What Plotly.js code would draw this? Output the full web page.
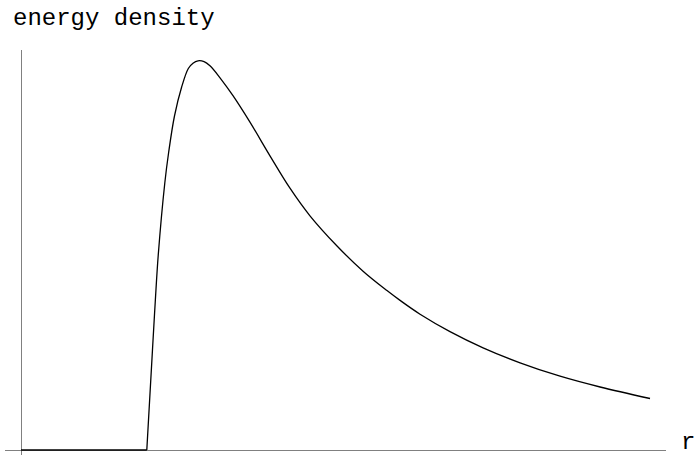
<!DOCTYPE html>
<html>
<head>
<meta charset="utf-8">
<script src="https://cdn.plot.ly/plotly-3.0.1.min.js"></script>
<style>html,body{margin:0;padding:0;background:#fff;}#chart{width:697px;height:456px;}</style>
</head>
<body>
<div id="chart"></div>
<script>
// inside region (flat at zero)
const rInner = [0, 1.0];
const eInner = [0, 0];
// outside region
const rOuter = [1.0, 1.045, 1.068, 1.091, 1.143, 1.174, 1.220, 1.277, 1.330, 1.367, 1.407, 1.455, 1.502, 1.582, 1.685, 1.820, 1.979, 2.138, 2.297, 2.512, 2.719, 2.909, 3.013, 3.172, 3.410, 3.673, 3.967, 4.285, 4.603, 5.0];
const eOuter = [0, 1.00, 1.50, 1.95, 2.67, 2.98, 3.34, 3.63, 3.815, 3.868, 3.892, 3.884, 3.842, 3.722, 3.543, 3.278, 2.942, 2.618, 2.342, 2.040, 1.788, 1.594, 1.496, 1.358, 1.184, 1.022, 0.872, 0.738, 0.630, 0.515];
const xLabel = 'r';
const yLabel = 'energy density';

const lineStyle = {color: '#000', width: 1.3};
const traces = [
  {x: rInner, y: eInner, mode: 'lines', line: lineStyle, hoverinfo: 'skip'},
  {x: rOuter, y: eOuter, mode: 'lines', line: Object.assign({shape: 'spline', smoothing: 1.0}, lineStyle), hoverinfo: 'skip'}
];
const axisCommon = {showgrid: false, showticklabels: false, ticks: '', showline: false,
  zeroline: true, zerolinecolor: '#808080', zerolinewidth: 1, fixedrange: true};
const monoFont = {family: 'Liberation Mono, Courier New, monospace', size: 24, color: '#000'};
const layout = {
  width: 697, height: 456,
  margin: {l: 5, r: 31, t: 50, b: 1},
  paper_bgcolor: '#fff', plot_bgcolor: '#fff',
  showlegend: false,
  xaxis: Object.assign({range: [-0.1272, 5.127]}, axisCommon),
  yaxis: Object.assign({range: [-0.05, 4.0]}, axisCommon),
  annotations: [
    {text: yLabel, xref: 'paper', yref: 'paper', x: 0.009, y: 1.078, xanchor: 'left', yanchor: 'middle',
     showarrow: false, font: monoFont},
    {text: xLabel, xref: 'paper', yref: 'paper', x: 1.0469, y: 0.030, xanchor: 'right', yanchor: 'middle',
     showarrow: false, font: monoFont}
  ]
};
Plotly.newPlot('chart', traces, layout, {staticPlot: true, displayModeBar: false});
</script>
</body>
</html>
